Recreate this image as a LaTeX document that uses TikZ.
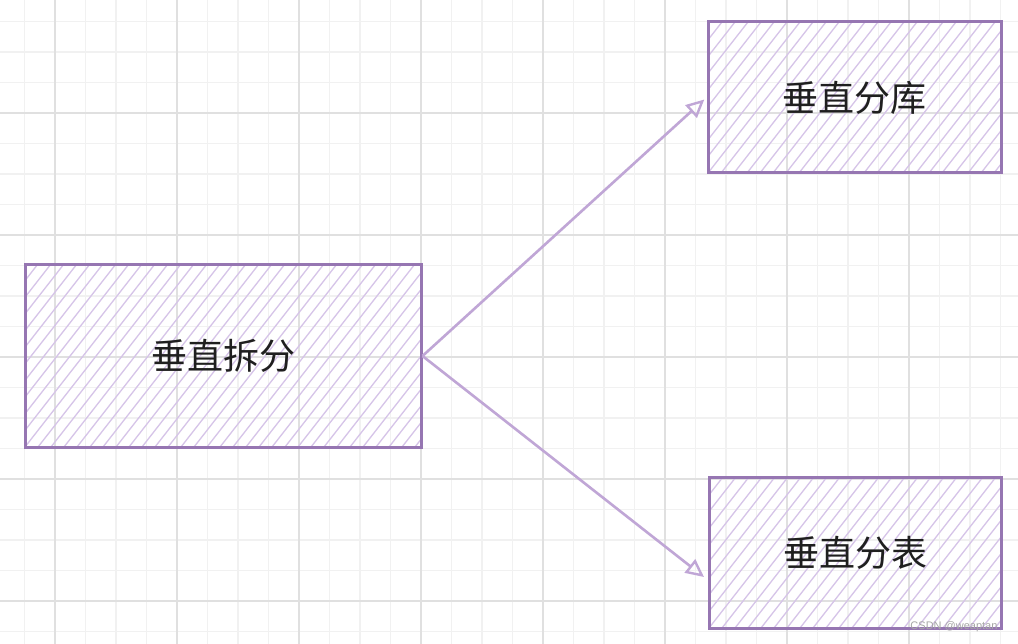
\documentclass[tikz,border=0pt]{standalone}
\usepackage{fontspec}
\newfontfamily\cjk{Noto Sans CJK SC}
\newfontfamily\wmfont{Liberation Sans}
\usetikzlibrary{arrows.meta,calc}

\definecolor{boxline}{RGB}{150,118,178}
\definecolor{hatchcol}{RGB}{214,196,232}
\definecolor{linkcol}{RGB}{192,166,214}
\definecolor{gridmajor}{RGB}{224,224,224}
\definecolor{gridminor}{RGB}{241,241,241}

\tikzset{
    hatchbox/.style={draw=boxline, line width=3pt, inner sep=0pt,
        font=\cjk\fontsize{36}{42}\selectfont, text=black!88,
        path picture={
            \foreach \i in {-14,...,32}
                \draw[hatchcol, line width=1.3pt]
                    ($(path picture bounding box.south west)+(\i*13pt,0pt)$) -- ++(52:420pt);
        }},
    link/.style={draw=linkcol, line width=2.6pt, -{Triangle[open, length=18pt, width=17pt, line width=2.4pt]}}
}

\begin{document}
\begin{tikzpicture}[x=1pt, y=-1pt]
    \useasboundingbox (0,0) rectangle (1018,644);
    \fill[white] (0,0) rectangle (1018,644);
    % grid
    \foreach \k in {0,...,32} {\draw[gridminor, line width=1.4pt] (24.5+30.5*\k,0) -- (24.5+30.5*\k,644);}
    \foreach \k in {0,...,20} {\draw[gridminor, line width=1.4pt] (0,21.5+30.5*\k) -- (1018,21.5+30.5*\k);}
    \foreach \k in {0,...,7} {\draw[gridmajor, line width=1.4pt] (55+122*\k,0) -- (55+122*\k,644);}
    \foreach \k in {0,...,4} {\draw[gridmajor, line width=1.4pt] (0,113+122*\k) -- (1018,113+122*\k);}

    \node[hatchbox, minimum width=396pt, minimum height=182pt] (split) at (223,356) {垂直拆分};
    \node[hatchbox, minimum width=293pt, minimum height=151pt] (db) at (854.5,97.5) {垂直分库};
    \node[hatchbox, minimum width=292pt, minimum height=151pt] (table) at (855,552.5) {垂直分表};

    \coordinate (tableIn) at (704,577);
    \draw[link, shorten >=3pt] (split.east) -- (db.west);
    \draw[link] (split.east) -- (tableIn);

    \node[font=\wmfont\fontsize{11}{13}\selectfont, text=gray!70, anchor=east] (mark) at (1001,627) {CSDN @weaptan};
\end{tikzpicture}
\end{document}
